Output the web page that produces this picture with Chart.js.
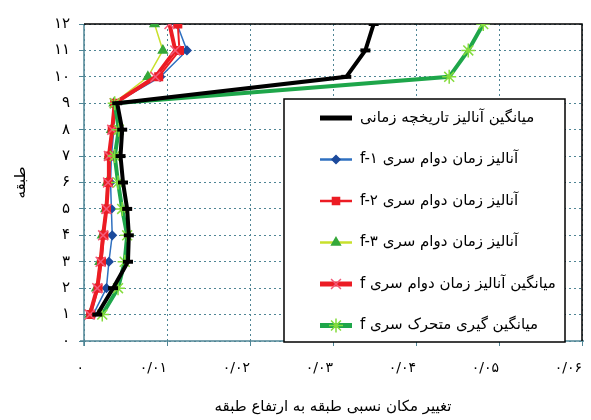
<!DOCTYPE html>
<html>
<head>
<meta charset="utf-8">
<script src="https://cdn.jsdelivr.net/npm/chart.js@4.4.0/dist/chart.umd.min.js"></script>
<style>
html, body { margin: 0; padding: 0; background: #fff; }
#wrap { width: 591px; height: 420px; }
</style>
</head>
<body>
<div id="wrap"><canvas id="chart"></canvas></div>
<script>
// floors (y) and drift ratios (x)
var floors = [1, 2, 3, 4, 5, 6, 7, 8, 9, 10, 11, 12];
var timeHistory = [0.0016, 0.0035, 0.0053, 0.0054, 0.0052, 0.0047, 0.0044, 0.0046, 0.0040, 0.0316, 0.0339, 0.0349];
var seriesF1 = [0.0011, 0.0027, 0.0030, 0.0034, 0.0033, 0.0032, 0.0033, 0.0036, 0.0037, 0.0092, 0.0124, 0.0112];
var seriesF2 = [0.0008, 0.0017, 0.0021, 0.0024, 0.0027, 0.0029, 0.0030, 0.0034, 0.0037, 0.0090, 0.0115, 0.0113];
var seriesF3 = [0.0007, 0.0015, 0.0019, 0.0022, 0.0026, 0.0028, 0.0030, 0.0033, 0.0036, 0.0077, 0.0095, 0.0085];
var meanF = [0.0007, 0.0016, 0.0020, 0.0023, 0.0027, 0.0029, 0.0030, 0.0034, 0.0037, 0.0086, 0.0110, 0.0103];
var movingAvg = [0.0022, 0.0041, 0.0049, 0.0052, 0.0046, 0.0041, 0.0037, 0.0042, 0.0037, 0.0440, 0.0463, 0.0481];

var labels = [
    'میانگین آنالیز تاریخچه زمانی',
    'آنالیز زمان دوام سری f-۱',
    'آنالیز زمان دوام سری f-۲',
    'آنالیز زمان دوام سری f-۳',
    'میانگین آنالیز زمان دوام سری f',
    'میانگین گیری متحرک سری f'
];

var FONT = "'DejaVu Sans', sans-serif";
var GRID = '#4f8595';

function fa(s) {
    return String(s).replace(/[0-9]/g, function (d) { return '۰۱۲۳۴۵۶۷۸۹'[d]; });
}
function pts(vals) {
    return vals.map(function (v, i) { return { x: v, y: floors[i] }; });
}

// solid axes, black frame on top and right of the plot
var frame = {
    id: 'frame',
    beforeDatasetsDraw: function (chart) {
        var a = chart.chartArea, ctx = chart.ctx;
        ctx.save();
        ctx.lineWidth = 1.5;
        ctx.strokeStyle = GRID;
        ctx.beginPath();
        ctx.moveTo(a.left - 4, a.bottom);
        ctx.lineTo(a.right + 2, a.bottom);
        ctx.moveTo(a.left, a.top);
        ctx.lineTo(a.left, a.bottom + 5);
        ctx.stroke();
        ctx.strokeStyle = '#000';
        ctx.beginPath();
        ctx.moveTo(a.left, a.top);
        ctx.lineTo(a.right, a.top);
        ctx.lineTo(a.right, a.bottom);
        ctx.stroke();
        ctx.restore();
    }
};

// boxed legend inside the plot
var legendBox = {
    id: 'legendBox',
    afterDraw: function (chart) {
        var ctx = chart.ctx;
        ctx.save();
        ctx.fillStyle = '#fff';
        ctx.fillRect(284, 99, 281, 243);
        ctx.strokeStyle = '#000';
        ctx.lineWidth = 1.5;
        ctx.strokeRect(284, 99, 281, 243);
        chart.data.datasets.forEach(function (ds, i) {
            var y = 118 + i * 41.5;
            ctx.strokeStyle = ds.borderColor;
            ctx.lineWidth = ds.legendLine;
            ctx.beginPath();
            ctx.moveTo(320, y);
            ctx.lineTo(352, y);
            ctx.stroke();
            if (ds.legendMarker) {
                ctx.fillStyle = ds.pointBackgroundColor;
                ctx.strokeStyle = ds.pointBorderColor;
                ctx.lineWidth = 1.5;
                Chart.helpers.drawPoint(ctx, { pointStyle: ds.pointStyle, radius: ds.pointRadius, rotation: 0, borderWidth: 1.5 }, 336, y);
            }
            ctx.fillStyle = '#000';
            ctx.font = '15px ' + FONT;
            ctx.direction = 'rtl';
            ctx.textAlign = 'left';
            ctx.textBaseline = 'middle';
            ctx.fillText(ds.label, 360, y);
        });
        ctx.restore();
    }
};

new Chart(document.getElementById('chart'), {
    type: 'scatter',
    data: {
        datasets: [{
            label: labels[0],
            data: pts(timeHistory),
            showLine: true,
            borderColor: '#000',
            borderWidth: 4,
            pointStyle: 'line',
            pointRadius: 5,
            pointBorderWidth: 4,
            pointBorderColor: '#000',
            pointBackgroundColor: '#000',
            legendLine: 5,
            legendMarker: false,
            order: 0
        }, {
            label: labels[1],
            data: pts(seriesF1),
            showLine: true,
            borderColor: '#2f70c0',
            borderWidth: 1.5,
            pointStyle: 'rectRot',
            pointRadius: 4,
            pointBorderColor: '#1c4a9c',
            pointBackgroundColor: '#1c4a9c',
            legendLine: 2.5,
            legendMarker: true,
            order: 4
        }, {
            label: labels[2],
            data: pts(seriesF2),
            showLine: true,
            borderColor: '#ec1c24',
            borderWidth: 2,
            pointStyle: 'rect',
            pointRadius: 5,
            pointBorderColor: '#ec1c24',
            pointBackgroundColor: '#ec1c24',
            legendLine: 2.5,
            legendMarker: true,
            order: 3
        }, {
            label: labels[3],
            data: pts(seriesF3),
            showLine: true,
            borderColor: '#c8e02c',
            borderWidth: 1.5,
            pointStyle: 'triangle',
            pointRadius: 5,
            pointBorderColor: '#35a83a',
            pointBackgroundColor: '#35a83a',
            legendLine: 2.5,
            legendMarker: true,
            order: 5
        }, {
            label: labels[4],
            data: pts(meanF),
            showLine: true,
            borderColor: '#ec1c24',
            borderWidth: 4,
            pointStyle: 'crossRot',
            pointRadius: 7,
            pointBorderWidth: 1.5,
            pointBorderColor: '#f25a78',
            pointBackgroundColor: '#f25a78',
            legendLine: 5,
            legendMarker: true,
            order: 2
        }, {
            label: labels[5],
            data: pts(movingAvg),
            showLine: true,
            borderColor: '#1ea64a',
            borderWidth: 4,
            pointStyle: 'star',
            pointRadius: 7,
            pointBorderWidth: 1.5,
            pointBorderColor: '#84dc3c',
            pointBackgroundColor: '#84dc3c',
            legendLine: 5,
            legendMarker: true,
            order: 1
        }]
    },
    options: {
        responsive: true,
        maintainAspectRatio: false,
        animation: false,
        layout: { padding: { top: 24, right: 9, left: 0, bottom: 0 } },
        plugins: {
            legend: { display: false },
            tooltip: { enabled: false }
        },
        scales: {
            x: {
                type: 'linear',
                min: 0,
                max: 0.06,
                afterFit: function (s) { s.height = 79; s.paddingLeft = 0; s.paddingRight = 0; },
                ticks: {
                    stepSize: 0.01,
                    padding: 14,
                    align: 'end',
                    color: '#000',
                    font: { family: FONT, size: 14 },
                    maxRotation: 0,
                    autoSkip: false,
                    callback: function (v) {
                        return v === 0 ? '۰' : fa(v.toFixed(2).replace('.', '/'));
                    }
                },
                grid: { color: GRID, tickLength: 5, tickBorderDash: [], tickColor: GRID },
                border: { display: false, dash: [2, 3] },
                title: {
                    display: true,
                    text: 'تغییر مکان نسبی طبقه به ارتفاع طبقه',
                    color: '#000',
                    font: { family: FONT, size: 15 },
                    padding: { top: 12 }
                }
            },
            y: {
                type: 'linear',
                min: 0,
                max: 12,
                afterFit: function (s) { s.width = 84; s.paddingTop = 0; s.paddingBottom = 0; },
                ticks: {
                    stepSize: 1,
                    padding: 9,
                    color: '#000',
                    font: { family: FONT, size: 15 },
                    autoSkip: false,
                    callback: function (v) { return fa(v); }
                },
                grid: { color: GRID, tickLength: 5, tickBorderDash: [], tickColor: GRID },
                border: { display: false, dash: [2, 3] },
                title: {
                    display: true,
                    text: 'طبقه',
                    color: '#000',
                    font: { family: FONT, size: 15 },
                    padding: { top: 12, bottom: 0 }
                }
            }
        }
    },
    plugins: [frame, legendBox]
});
</script>
</body>
</html>
